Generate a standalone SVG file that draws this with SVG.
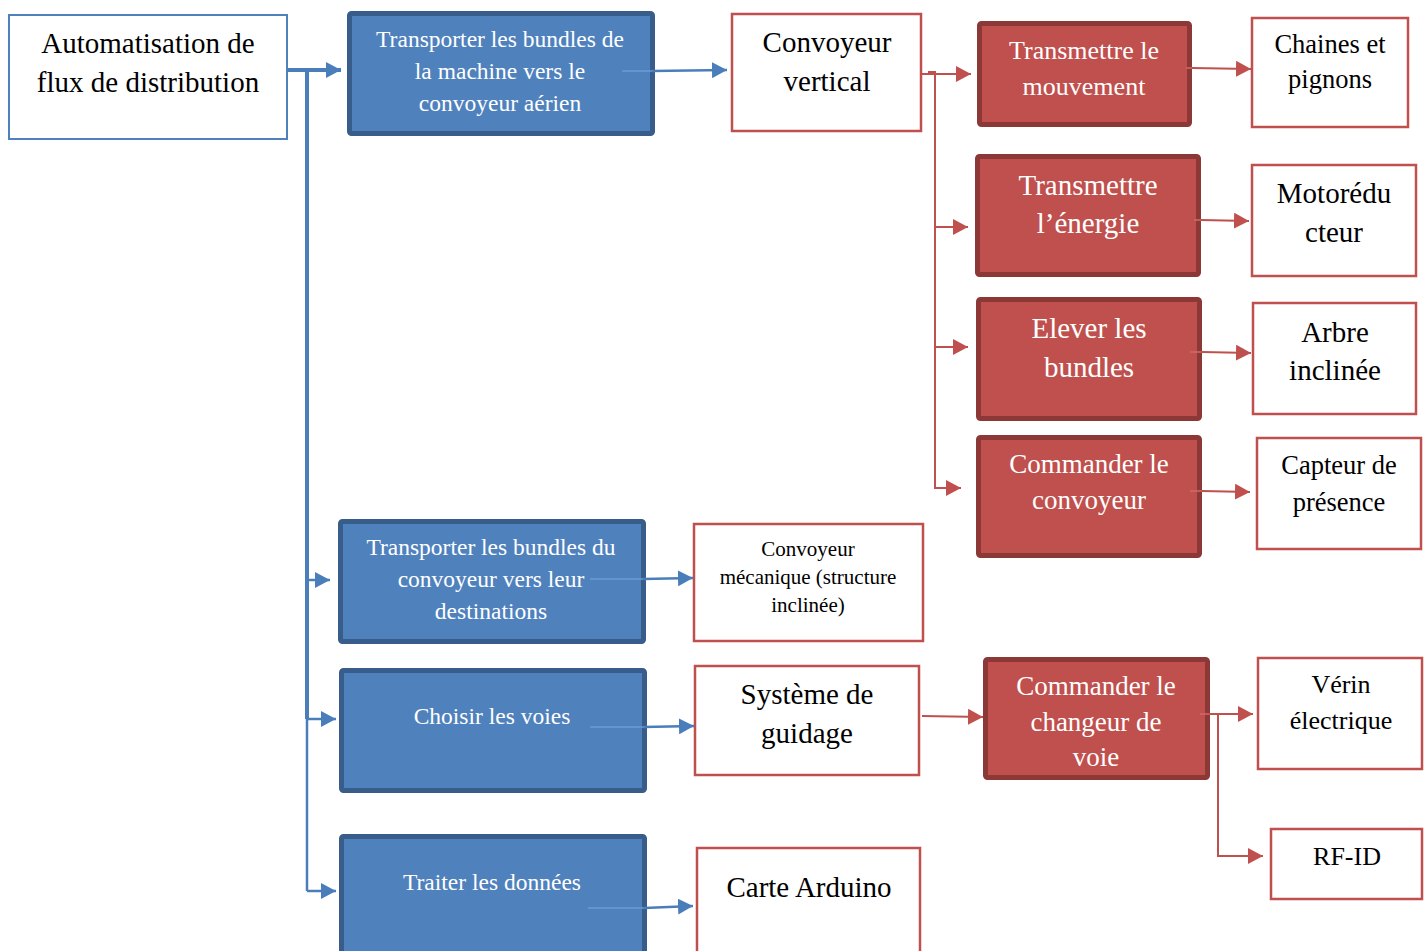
<svg xmlns="http://www.w3.org/2000/svg" width="1427" height="951" viewBox="0 0 1427 951">
  <defs>
    <style>
      text { font-family: "Liberation Serif", "Times New Roman", serif; text-anchor: middle; }
      .dark { fill: #000000; }
      .light { fill: #ffffff; }
      .root { fill: #ffffff; stroke: #4F81BD; stroke-width: 2; }
      .func { fill: #4F81BD; stroke: #385D8A; stroke-width: 5; }
      .sub { fill: #C0504D; stroke: #8C3836; stroke-width: 5; }
      .sol { fill: #ffffff; stroke: #C0504D; stroke-width: 2.5; }
      .cb { fill: none; stroke: #4A7EBB; stroke-width: 2.5; }
      .cbt { fill: none; stroke: #4A7EBB; stroke-width: 4; }
      .cr { fill: none; stroke: #C0504D; stroke-width: 2; }
      .tail-b { fill: none; stroke: #6E9BD2; stroke-width: 1.5; }
      .tail-r { fill: none; stroke: #D06A67; stroke-width: 1.5; }
    </style>
    <marker id="ab" markerUnits="userSpaceOnUse" markerWidth="15" markerHeight="16" refX="15" refY="8" orient="auto">
      <path d="M0,0 L15,8 L0,16 z" fill="#4A7EBB"/>
    </marker>
    <marker id="ar" markerUnits="userSpaceOnUse" markerWidth="15" markerHeight="16" refX="15" refY="8" orient="auto">
      <path d="M0,0 L15,8 L0,16 z" fill="#C0504D"/>
    </marker>
  </defs>

  <!-- root -->
  <g id="root">
    <rect class="root" x="9" y="15" width="278" height="124"/>
    <text class="dark" font-size="29" x="148" y="53">Automatisation de</text>
    <text class="dark" font-size="29" x="148" y="92">flux de distribution</text>
  </g>

  <!-- functions -->
  <g id="f1">
    <rect class="func" x="349.5" y="13.5" width="303" height="120" rx="2"/>
    <text class="light" font-size="23.5" x="500" y="47">Transporter les bundles de</text>
    <text class="light" font-size="23.5" x="500" y="79">la machine vers le</text>
    <text class="light" font-size="23.5" x="500" y="111">convoyeur aérien</text>
  </g>
  <g id="f2">
    <rect class="func" x="340.5" y="521.5" width="303" height="120" rx="2"/>
    <text class="light" font-size="23.5" x="491" y="555">Transporter les bundles du</text>
    <text class="light" font-size="23.5" x="491" y="587">convoyeur vers leur</text>
    <text class="light" font-size="23.5" x="491" y="619">destinations</text>
  </g>
  <g id="f3">
    <rect class="func" x="341.5" y="670.5" width="303" height="120" rx="2"/>
    <text class="light" font-size="23.5" x="492" y="724">Choisir les voies</text>
  </g>
  <g id="f4">
    <rect class="func" x="341.5" y="836.5" width="303" height="130" rx="2"/>
    <text class="light" font-size="23.5" x="492" y="890">Traiter les données</text>
  </g>

  <!-- solutions -->
  <g id="s-vertical">
    <rect class="sol" x="732" y="14" width="189" height="117"/>
    <text class="dark" font-size="29" x="827" y="52">Convoyeur</text>
    <text class="dark" font-size="29" x="827" y="91">vertical</text>
  </g>
  <g id="s-mecanique">
    <rect class="sol" x="694" y="524" width="229" height="117"/>
    <text class="dark" font-size="21" x="808" y="556">Convoyeur</text>
    <text class="dark" font-size="21" x="808" y="584">mécanique (structure</text>
    <text class="dark" font-size="21" x="808" y="612">inclinée)</text>
  </g>
  <g id="s-guidage">
    <rect class="sol" x="695" y="666" width="224" height="109"/>
    <text class="dark" font-size="29" x="807" y="704">Système de</text>
    <text class="dark" font-size="29" x="807" y="743">guidage</text>
  </g>
  <g id="s-arduino">
    <rect class="sol" x="697" y="848" width="223" height="120"/>
    <text class="dark" font-size="29" x="809" y="897">Carte Arduino</text>
  </g>

  <!-- sub-functions -->
  <g id="r1">
    <rect class="sub" x="979.5" y="23.5" width="210" height="101" rx="2"/>
    <text class="light" font-size="26" x="1084" y="59">Transmettre le</text>
    <text class="light" font-size="26" x="1084" y="95">mouvement</text>
  </g>
  <g id="r2">
    <rect class="sub" x="977.5" y="156.5" width="221" height="118" rx="2"/>
    <text class="light" font-size="29" x="1088" y="195">Transmettre</text>
    <text class="light" font-size="29" x="1088" y="233">l’énergie</text>
  </g>
  <g id="r3">
    <rect class="sub" x="978.5" y="299.5" width="221" height="119" rx="2"/>
    <text class="light" font-size="29" x="1089" y="338">Elever les</text>
    <text class="light" font-size="29" x="1089" y="377">bundles</text>
  </g>
  <g id="r4">
    <rect class="sub" x="978.5" y="437.5" width="221" height="118" rx="2"/>
    <text class="light" font-size="27" x="1089" y="473">Commander le</text>
    <text class="light" font-size="27" x="1089" y="509">convoyeur</text>
  </g>
  <g id="r5">
    <rect class="sub" x="985.5" y="659.5" width="222" height="118" rx="2"/>
    <text class="light" font-size="27" x="1096" y="695">Commander le</text>
    <text class="light" font-size="27" x="1096" y="731">changeur de</text>
    <text class="light" font-size="27" x="1096" y="766">voie</text>
  </g>

  <!-- components -->
  <g id="c1">
    <rect class="sol" x="1252" y="18" width="156" height="109"/>
    <text class="dark" font-size="26.5" x="1330" y="53">Chaines et</text>
    <text class="dark" font-size="26.5" x="1330" y="88">pignons</text>
  </g>
  <g id="c2">
    <rect class="sol" x="1252" y="165" width="164" height="111"/>
    <text class="dark" font-size="29" x="1334" y="203">Motorédu</text>
    <text class="dark" font-size="29" x="1334" y="242">cteur</text>
  </g>
  <g id="c3">
    <rect class="sol" x="1253" y="303" width="163" height="111"/>
    <text class="dark" font-size="29" x="1335" y="342">Arbre</text>
    <text class="dark" font-size="29" x="1335" y="380">inclinée</text>
  </g>
  <g id="c4">
    <rect class="sol" x="1257" y="438" width="164" height="111"/>
    <text class="dark" font-size="26.5" x="1339" y="474">Capteur de</text>
    <text class="dark" font-size="26.5" x="1339" y="511">présence</text>
  </g>
  <g id="c5">
    <rect class="sol" x="1258" y="658" width="164" height="111"/>
    <text class="dark" font-size="26" x="1341" y="693">Vérin</text>
    <text class="dark" font-size="26" x="1341" y="729">électrique</text>
  </g>
  <g id="c6">
    <rect class="sol" x="1271" y="829" width="151" height="70"/>
    <text class="dark" font-size="26" x="1347" y="865">RF-ID</text>
  </g>

  <!-- connectors -->
  <g id="connectors">
    <!-- main blue tree -->
    <path class="cbt" d="M287,70 H341" marker-end="url(#ab)"/>
    <path class="cbt" d="M307,70 V719"/>
    <path class="cb" d="M307,719 V891"/>
    <path class="cb" d="M307,580 H330" marker-end="url(#ab)"/>
    <path class="cb" d="M307,719 H336" marker-end="url(#ab)"/>
    <path class="cb" d="M307,891 H336" marker-end="url(#ab)"/>
    <!-- functions to solutions (tails start inside the boxes) -->
    <path class="tail-b" d="M622,71 L652,71"/>
    <path class="cb" d="M652,71 L727,70" marker-end="url(#ab)"/>
    <path class="tail-b" d="M590,579 L643,579"/>
    <path class="cb" d="M643,579 L693,578" marker-end="url(#ab)"/>
    <path class="tail-b" d="M590,727 L644,727"/>
    <path class="cb" d="M644,727 L694,726" marker-end="url(#ab)"/>
    <path class="tail-b" d="M588,908 L644,908"/>
    <path class="cb" d="M644,908 L693,906" marker-end="url(#ab)"/>
    <!-- vertical conveyor tree -->
    <path class="cr" d="M921,74 H971" marker-end="url(#ar)"/>
    <path class="cr" d="M928,72 H935 V488 H961" marker-end="url(#ar)"/>
    <path class="cr" d="M935,227 H968" marker-end="url(#ar)"/>
    <path class="cr" d="M935,347 H968" marker-end="url(#ar)"/>
    <path class="tail-r" d="M1186,68 H1192"/>
    <path class="cr" d="M1192,68 L1251,69" marker-end="url(#ar)"/>
    <path class="tail-r" d="M1194,220 H1201"/>
    <path class="cr" d="M1201,220 L1249,221" marker-end="url(#ar)"/>
    <path class="tail-r" d="M1190,352 H1202"/>
    <path class="cr" d="M1202,352 L1251,353" marker-end="url(#ar)"/>
    <path class="tail-r" d="M1190,491 H1202"/>
    <path class="cr" d="M1202,491 L1250,492" marker-end="url(#ar)"/>
    <!-- guidance tree -->
    <path class="cr" d="M922,716 L983,717" marker-end="url(#ar)"/>
    <path class="tail-r" d="M1200,714 H1209"/>
    <path class="cr" d="M1209,714 H1253" marker-end="url(#ar)"/>
    <path class="cr" d="M1218,714 V856 H1263" marker-end="url(#ar)"/>
  </g>
</svg>
